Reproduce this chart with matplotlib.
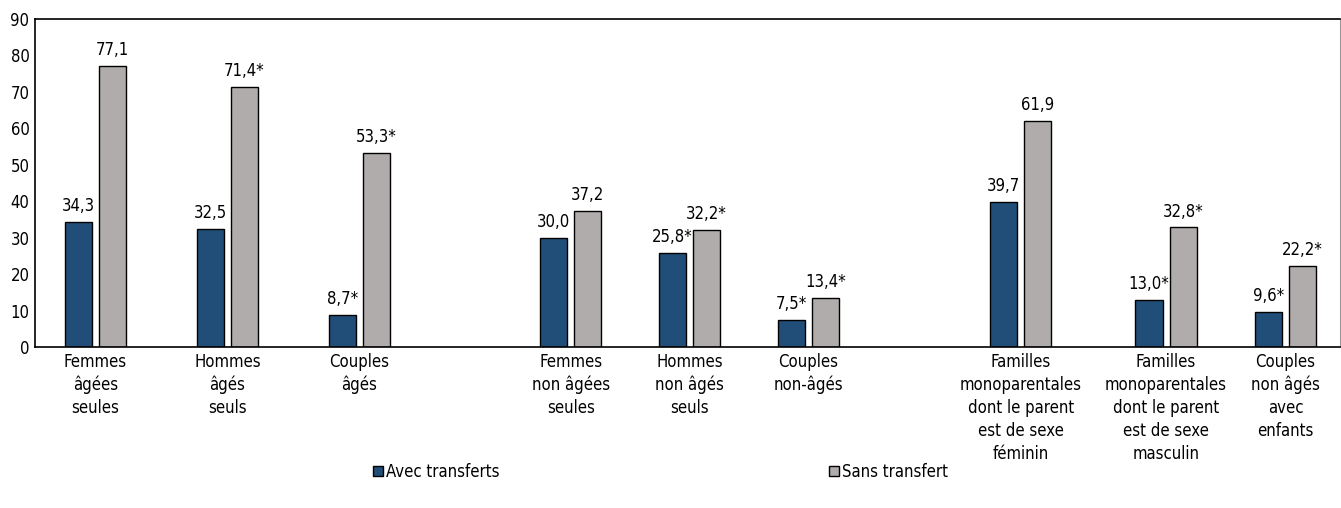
import numpy as np
import matplotlib.pyplot as plt

plt.rcParams['font.family'] = ['DejaVu Sans']
plt.rcParams['font.stretch'] = 'condensed'

categories = [
    "Femmes\nâgées\nseules",
    "Hommes\nâgés\nseuls",
    "Couples\nâgés",
    "Femmes\nnon âgées\nseules",
    "Hommes\nnon âgés\nseuls",
    "Couples\nnon-âgés",
    "Familles\nmonoparentales\ndont le parent\nest de sexe\nféminin",
    "Familles\nmonoparentales\ndont le parent\nest de sexe\nmasculin",
    "Couples\nnon âgés\navec\nenfants",
]
avec_transferts = [34.3, 32.5, 8.7, 30.0, 25.8, 7.5, 39.7, 13.0, 9.6]
sans_transfert = [77.1, 71.4, 53.3, 37.2, 32.2, 13.4, 61.9, 32.8, 22.2]
avec_labels = ["34,3", "32,5", "8,7*", "30,0", "25,8*", "7,5*", "39,7", "13,0*", "9,6*"]
sans_labels = ["77,1", "71,4*", "53,3*", "37,2", "32,2*", "13,4*", "61,9", "32,8*", "22,2*"]

# group centres along the axis (three blocks of households)
pos = np.array([0, 1, 2, 3.6, 4.5, 5.4, 7.01, 8.11, 9.015])
width = 0.205
off = 0.129

blue = '#214e78'
grey = '#b0acab'
fs = 12

fig = plt.figure(figsize=(13.41, 5.08), dpi=100)
ax = fig.add_axes([35 / 1341, 161 / 508, 1305 / 1341, 328 / 508])

b1 = ax.bar(pos - off, avec_transferts, width, color=blue, edgecolor='black',
            linewidth=1, label='Avec transferts')
b2 = ax.bar(pos + off, sans_transfert, width, color=grey, edgecolor='black',
            linewidth=1, label='Sans transfert')

for bars, labels in ((b1, avec_labels), (b2, sans_labels)):
    for rect, txt in zip(bars, labels):
        ax.annotate(txt, (rect.get_x() + rect.get_width() / 2, rect.get_height()),
                    xytext=(0, 5), textcoords='offset points',
                    ha='center', va='bottom', fontsize=fs)

ax.set_xlim(-0.458, 9.428)
ax.set_ylim(0, 90)
ax.set_yticks(range(0, 91, 10))
ax.tick_params(axis='y', length=0, labelsize=fs, pad=4)
ax.set_xticks(pos)
ax.set_xticklabels(categories, fontsize=fs, linespacing=1.36)
ax.tick_params(axis='x', length=0, pad=4)

for side in ['left', 'bottom', 'top']:
    ax.spines[side].set_color('black')
    ax.spines[side].set_linewidth(1.2)
ax.spines['right'].set_color('#999999')

leg = fig.legend(handles=[b1, b2], loc='center left',
                 bbox_to_anchor=(373 / 1341, 1 - 472 / 508), ncol=2,
                 frameon=False, fontsize=fs, handlelength=0.6,
                 handleheight=0.6, handletextpad=0.15, columnspacing=19.8,
                 borderaxespad=0, borderpad=0)

fig.savefig('out.png', dpi=100)
